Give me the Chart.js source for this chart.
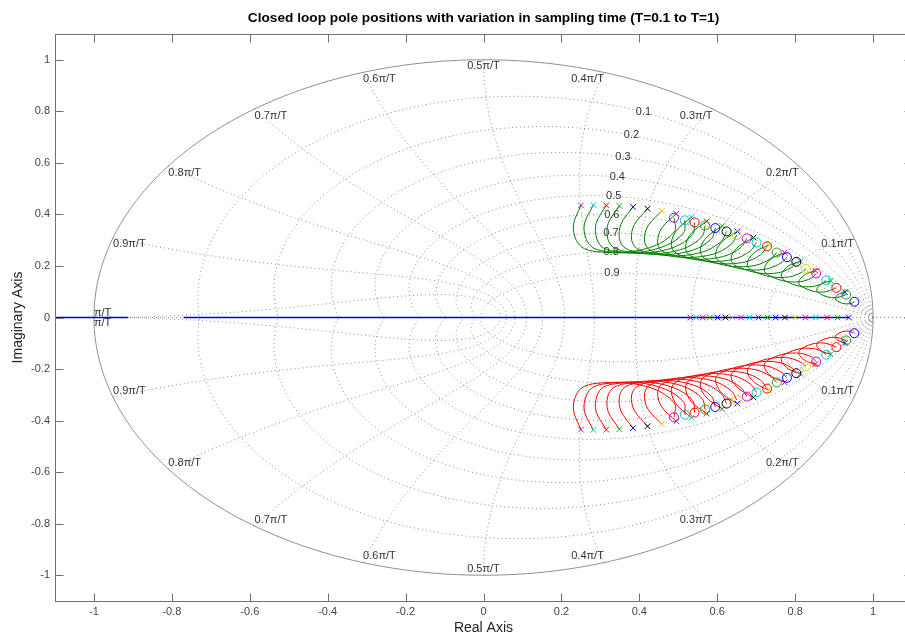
<!DOCTYPE html>
<html>
<head>
<meta charset="utf-8">
<script src="https://cdn.jsdelivr.net/npm/chart.js@4.4.0/dist/chart.umd.min.js"></script>
<style>
html, body { margin: 0; padding: 0; background: #fff; overflow: hidden; }
</style>
</head>
<body>
<canvas id="myChart" width="967" height="640"></canvas>
<script>
// sampling times, one locus per T (T=1 first, T=0.1 last)
const sampleT = [1.0, 0.95, 0.9, 0.85, 0.8, 0.75, 0.7, 0.65, 0.6, 0.55, 0.5, 0.45, 0.4, 0.35, 0.3, 0.25, 0.2, 0.15, 0.1];

// open loop complex pole (upper half)
const poleRe = [0.250, 0.282, 0.315, 0.349, 0.384, 0.421, 0.458, 0.495, 0.534, 0.573, 0.613, 0.652, 0.693, 0.733, 0.773, 0.813, 0.852, 0.891, 0.928];
const poleIm = [0.435, 0.436, 0.435, 0.433, 0.429, 0.422, 0.414, 0.403, 0.389, 0.373, 0.355, 0.334, 0.310, 0.282, 0.252, 0.218, 0.181, 0.142, 0.098];

// zeros (upper half)
const zeroRe = [0.489, 0.517, 0.542, 0.569, 0.595, 0.624, 0.650, 0.676, 0.701, 0.728, 0.753, 0.779, 0.803, 0.828, 0.854, 0.880, 0.906, 0.931, 0.952];
const zeroIm = [0.387, 0.377, 0.369, 0.357, 0.347, 0.334, 0.320, 0.307, 0.291, 0.276, 0.252, 0.234, 0.216, 0.189, 0.171, 0.144, 0.115, 0.089, 0.061];

// real pole on the real axis
const realPole = [0.531, 0.546, 0.563, 0.581, 0.601, 0.621, 0.639, 0.661, 0.683, 0.706, 0.729, 0.750, 0.774, 0.800, 0.826, 0.853, 0.882, 0.909, 0.938];

// points along each upper branch between pole and zero
const locusRe = [
  [0.231, 0.238, 0.259, 0.302, 0.371, 0.445, 0.491],
  [0.259, 0.264, 0.283, 0.325, 0.394, 0.468, 0.514],
  [0.289, 0.291, 0.308, 0.350, 0.418, 0.491, 0.537],
  [0.320, 0.319, 0.335, 0.376, 0.442, 0.515, 0.561],
  [0.353, 0.349, 0.363, 0.403, 0.468, 0.539, 0.585],
  [0.387, 0.380, 0.393, 0.431, 0.494, 0.564, 0.610],
  [0.422, 0.413, 0.424, 0.460, 0.522, 0.590, 0.635],
  [0.458, 0.447, 0.456, 0.491, 0.550, 0.616, 0.660],
  [0.496, 0.482, 0.490, 0.523, 0.579, 0.642, 0.685],
  [0.534, 0.519, 0.525, 0.556, 0.609, 0.670, 0.711],
  [0.574, 0.557, 0.562, 0.590, 0.640, 0.697, 0.737],
  [0.614, 0.597, 0.599, 0.626, 0.672, 0.726, 0.763],
  [0.656, 0.637, 0.639, 0.663, 0.705, 0.754, 0.789],
  [0.698, 0.679, 0.680, 0.700, 0.739, 0.784, 0.815],
  [0.740, 0.723, 0.722, 0.740, 0.774, 0.813, 0.842],
  [0.783, 0.767, 0.765, 0.780, 0.810, 0.844, 0.868],
  [0.827, 0.812, 0.810, 0.822, 0.846, 0.874, 0.895],
  [0.870, 0.858, 0.856, 0.865, 0.883, 0.905, 0.921],
  [0.914, 0.905, 0.903, 0.909, 0.921, 0.936, 0.948]
];
const locusIm = [
  [0.360, 0.300, 0.267, 0.254, 0.254, 0.282, 0.336],
  [0.363, 0.303, 0.269, 0.255, 0.252, 0.279, 0.329],
  [0.364, 0.305, 0.270, 0.255, 0.250, 0.274, 0.322],
  [0.365, 0.306, 0.271, 0.254, 0.247, 0.268, 0.314],
  [0.363, 0.306, 0.270, 0.252, 0.244, 0.262, 0.305],
  [0.360, 0.304, 0.269, 0.249, 0.239, 0.255, 0.295],
  [0.355, 0.301, 0.266, 0.245, 0.233, 0.246, 0.283],
  [0.348, 0.296, 0.261, 0.240, 0.226, 0.237, 0.271],
  [0.339, 0.289, 0.255, 0.233, 0.218, 0.226, 0.258],
  [0.328, 0.280, 0.247, 0.225, 0.209, 0.215, 0.243],
  [0.313, 0.269, 0.237, 0.215, 0.198, 0.202, 0.228],
  [0.297, 0.256, 0.226, 0.204, 0.186, 0.188, 0.211],
  [0.277, 0.240, 0.212, 0.191, 0.173, 0.173, 0.193],
  [0.255, 0.221, 0.195, 0.175, 0.158, 0.157, 0.174],
  [0.229, 0.200, 0.177, 0.158, 0.141, 0.139, 0.153],
  [0.200, 0.175, 0.155, 0.138, 0.122, 0.120, 0.131],
  [0.168, 0.148, 0.131, 0.116, 0.102, 0.099, 0.108],
  [0.132, 0.117, 0.103, 0.091, 0.080, 0.077, 0.083],
  [0.092, 0.082, 0.072, 0.064, 0.055, 0.053, 0.057]
];

// real axis branch (blue), start/end on the real axis
const realBranchSegments = [[-1.2, -0.913], [-0.77, 0.938]];

// axis ticks and grid levels
const xTicks = [-1, -0.8, -0.6, -0.4, -0.2, 0, 0.2, 0.4, 0.6, 0.8, 1];
const yTicks = [-1, -0.8, -0.6, -0.4, -0.2, 0, 0.2, 0.4, 0.6, 0.8, 1];
const dampingLevels = [0.1, 0.2, 0.3, 0.4, 0.5, 0.6, 0.7, 0.8, 0.9];
const freqLevels = [0.1, 0.2, 0.3, 0.4, 0.5, 0.6, 0.7, 0.8, 0.9, 1.0];

const titleText = 'Closed loop pole positions with variation in sampling time (T=0.1 to T=1)';

// marker colours cycle m c r g b k y
const palette = ['#cc00cc', '#00c0c8', '#ff0000', '#20a020', '#0000ff', '#000000', '#d4d400'];
const markColor = sampleT.map((t, i) => palette[i % palette.length]);

const FONT = "'Liberation Sans', Arial, Helvetica, sans-serif";

let datasets = [];

// markers on top
datasets.push({
  label: 'zeros up', data: zeroRe.map((v, i) => ({x: v, y: zeroIm[i]})),
  pointStyle: 'circle', pointRadius: 4.5, pointBorderWidth: 1,
  pointBorderColor: markColor, pointBackgroundColor: 'rgba(0,0,0,0)', showLine: false, order: 0
});
datasets.push({
  label: 'zeros down', data: zeroRe.map((v, i) => ({x: v, y: -zeroIm[i]})),
  pointStyle: 'circle', pointRadius: 4.5, pointBorderWidth: 1,
  pointBorderColor: markColor, pointBackgroundColor: 'rgba(0,0,0,0)', showLine: false, order: 0
});
datasets.push({
  label: 'poles up', data: poleRe.map((v, i) => ({x: v, y: poleIm[i]})),
  pointStyle: 'crossRot', pointRadius: 4, pointBorderWidth: 1,
  pointBorderColor: markColor, showLine: false, order: 0
});
datasets.push({
  label: 'poles down', data: poleRe.map((v, i) => ({x: v, y: -poleIm[i]})),
  pointStyle: 'crossRot', pointRadius: 4, pointBorderWidth: 1,
  pointBorderColor: markColor, showLine: false, order: 0
});
datasets.push({
  label: 'real poles', data: realPole.map(v => ({x: v, y: 0})),
  pointStyle: 'crossRot', pointRadius: 4, pointBorderWidth: 1,
  pointBorderColor: markColor, showLine: false, order: 0
});

// branches
for (let i = 0; i < sampleT.length; i++) {
  let up = [{x: poleRe[i], y: poleIm[i]}];
  for (let j = 0; j < locusRe[i].length; j++) {
    up.push({x: locusRe[i][j], y: locusIm[i][j]});
  }
  up.push({x: zeroRe[i], y: zeroIm[i]});
  datasets.push({
    label: 'T=' + sampleT[i] + ' up', data: up, showLine: true, pointRadius: 0,
    borderColor: '#008000', borderWidth: 1, tension: 0.35, order: 1
  });
  datasets.push({
    label: 'T=' + sampleT[i] + ' down', data: up.map(p => ({x: p.x, y: -p.y})), showLine: true, pointRadius: 0,
    borderColor: '#ff0000', borderWidth: 1, tension: 0.35, order: 1
  });
}
for (const seg of realBranchSegments) {
  datasets.push({
    label: 'real branch', data: [{x: seg[0], y: 0}, {x: seg[1], y: 0}], showLine: true, pointRadius: 0,
    borderColor: '#0000d0', borderWidth: 1.3, order: 2
  });
}

const zgridPlugin = {
  id: 'zgrid',
  beforeDatasetsDraw(chart) {
    const {ctx, chartArea: a, scales: {x, y}} = chart;
    const path = (pts) => {
      ctx.beginPath();
      pts.forEach((p, i) => {
        const px = x.getPixelForValue(p[0]), py = y.getPixelForValue(p[1]);
        if (i) ctx.lineTo(px, py); else ctx.moveTo(px, py);
      });
      ctx.stroke();
    };
    ctx.save();
    ctx.beginPath();
    ctx.rect(a.left, a.top, a.right - a.left, a.bottom - a.top);
    ctx.clip();
    ctx.strokeStyle = '#8a8a8a';
    ctx.lineWidth = 1;
    ctx.setLineDash([1, 3]);
    path([[-1.2, 0], [1.2, 0]]);
    // damping ratio spirals
    for (const zeta of dampingLevels) {
      const q = Math.sqrt(1 - zeta * zeta);
      for (const sgn of [1, -1]) {
        let pts = [];
        for (let i = 0; i <= 300; i++) {
          const w = Math.PI / q * i / 300;
          const r = Math.exp(-zeta * w);
          pts.push([r * Math.cos(q * w), sgn * r * Math.sin(q * w)]);
        }
        path(pts);
      }
    }
    // natural frequency curves
    for (const k of freqLevels) {
      const wn = k * Math.PI;
      for (const sgn of [1, -1]) {
        let pts = [];
        for (let i = 0; i <= 200; i++) {
          const zeta = i / 200;
          const r = Math.exp(-zeta * wn);
          const ang = wn * Math.sqrt(1 - zeta * zeta);
          pts.push([r * Math.cos(ang), sgn * r * Math.sin(ang)]);
        }
        path(pts);
      }
    }
    // unit circle
    ctx.setLineDash([]);
    ctx.strokeStyle = '#8c8c8c';
    let circ = [];
    for (let i = 0; i <= 720; i++) {
      const t = 2 * Math.PI * i / 720;
      circ.push([Math.cos(t), Math.sin(t)]);
    }
    path(circ);

    // labels
    ctx.fillStyle = '#333';
    ctx.font = '11px ' + FONT;
    for (const k of freqLevels) {
      const txt = k === 1 ? '\u03c0/T' : k.toFixed(1) + '\u03c0/T';
      const cx = Math.cos(k * Math.PI), cy = Math.sin(k * Math.PI);
      const px = x.getPixelForValue(cx);
      const pyU = y.getPixelForValue(cy), pyD = y.getPixelForValue(-cy);
      ctx.textAlign = cx > 0.001 ? 'right' : (cx < -0.001 ? 'left' : 'center');
      if (k === 1) {
        ctx.textBaseline = 'bottom'; ctx.fillText(txt, px, pyU + 1);
        ctx.textBaseline = 'top'; ctx.fillText(txt, px, pyD);
      } else {
        ctx.textBaseline = 'top'; ctx.fillText(txt, px, pyU + 1);
        ctx.textBaseline = 'bottom'; ctx.fillText(txt, px, pyD - 1);
      }
    }
    ctx.textAlign = 'center';
    ctx.textBaseline = 'middle';
    for (const zeta of dampingLevels) {
      const q = Math.sqrt(1 - zeta * zeta);
      const w = 1.1;
      const r = Math.exp(-zeta * w);
      ctx.fillText(zeta.toFixed(1), x.getPixelForValue(r * Math.cos(q * w)), y.getPixelForValue(r * Math.sin(q * w)));
    }
    ctx.restore();
  },
  afterDraw(chart) {
    const {ctx, chartArea: a, scales: {x, y}} = chart;
    ctx.save();
    ctx.strokeStyle = '#707070';
    ctx.lineWidth = 1;
    const L = Math.round(a.left) + 0.5, R = Math.round(a.right) + 0.5;
    const T = Math.round(a.top) + 0.5, B = Math.round(a.bottom) + 0.5;
    ctx.strokeRect(L, T, R - L, B - T);
    ctx.beginPath();
    for (const v of xTicks) {
      const px = Math.round(x.getPixelForValue(v)) + 0.5;
      ctx.moveTo(px, B); ctx.lineTo(px, B - 8);
      ctx.moveTo(px, T); ctx.lineTo(px, T + 8);
    }
    for (const v of yTicks) {
      const py = Math.round(y.getPixelForValue(v)) + 0.5;
      ctx.moveTo(L, py); ctx.lineTo(L + 8, py);
      ctx.moveTo(R, py); ctx.lineTo(R - 8, py);
    }
    ctx.stroke();
    // title centred over the axes box
    ctx.fillStyle = '#000';
    ctx.font = 'bold 13.7px ' + FONT;
    ctx.textAlign = 'center';
    ctx.textBaseline = 'middle';
    ctx.fillText(titleText, (a.left + a.right) / 2, 18);
    ctx.restore();
  }
};

const fmt = v => String(Math.round(v * 10) / 10);

const config = {
  type: 'scatter',
  data: {datasets: datasets},
  options: {
    responsive: false,
    devicePixelRatio: 1,
    animation: false,
    layout: {padding: {left: 0, right: 55, top: 34, bottom: 0}},
    plugins: {
      legend: {display: false},
      tooltip: {enabled: false},
      title: {display: false}
    },
    scales: {
      x: {
        type: 'linear', min: -1.1, max: 1.1,
        afterBuildTicks: s => { s.ticks = xTicks.map(v => ({value: v})); },
        afterFit: s => { s.height = 39; },
        grid: {display: false, drawTicks: false},
        border: {display: false},
        ticks: {color: '#444', font: {family: FONT, size: 11}, padding: 4, maxRotation: 0, callback: fmt},
        title: {display: true, text: 'Real Axis', color: '#222', font: {family: FONT, size: 14}, padding: {top: 0, bottom: 3}}
      },
      y: {
        type: 'linear', min: -1.1, max: 1.1,
        afterBuildTicks: s => { s.ticks = yTicks.map(v => ({value: v})); },
        afterFit: s => { s.width = 55; },
        grid: {display: false, drawTicks: false},
        border: {display: false},
        ticks: {color: '#444', font: {family: FONT, size: 11}, padding: 5, callback: fmt},
        title: {display: true, text: 'Imaginary Axis', color: '#222', font: {family: FONT, size: 14}, padding: {top: 10, bottom: 0}}
      }
    }
  },
  plugins: [zgridPlugin]
};

const myChart = new Chart(document.getElementById('myChart'), config);
</script>
</body>
</html>
